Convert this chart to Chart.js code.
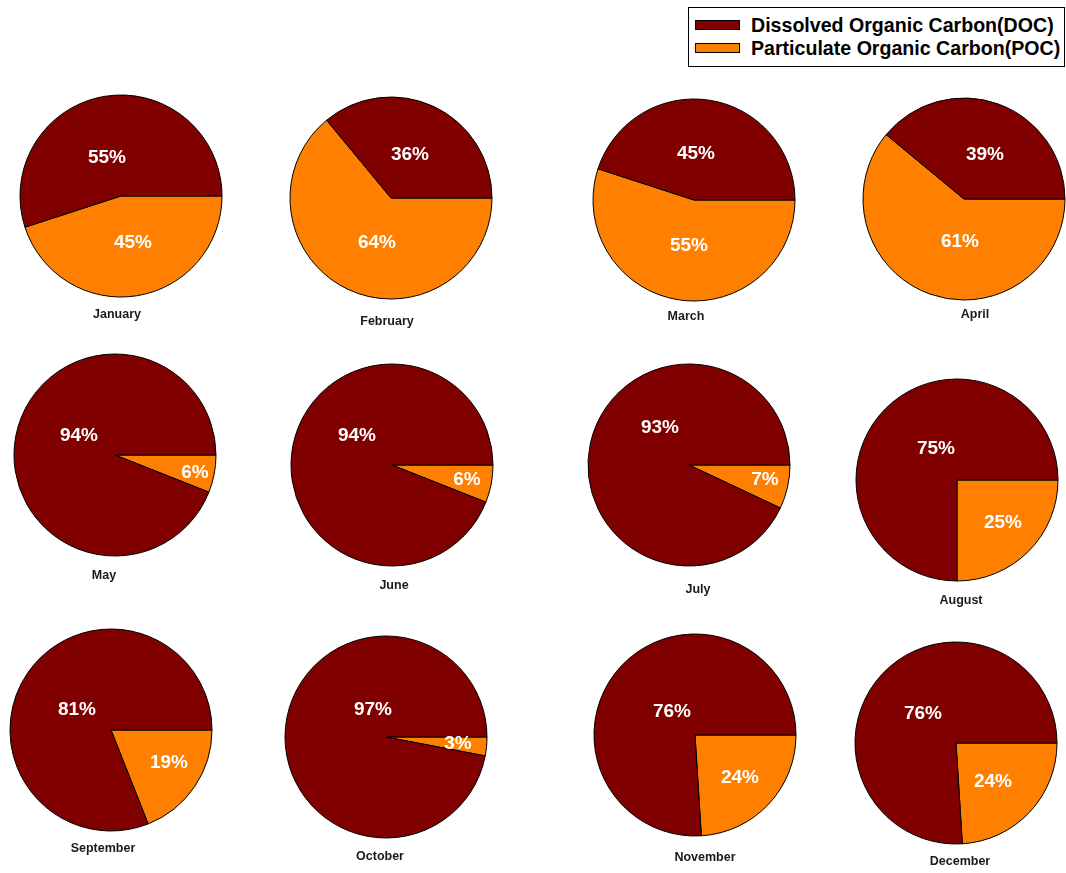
<!DOCTYPE html>
<html>
<head>
<meta charset="utf-8">
<script src="https://cdn.jsdelivr.net/npm/chart.js@4/dist/chart.umd.min.js"></script>
<style>
html,body{margin:0;padding:0;background:#fff;}
#page{position:relative;width:1066px;height:873px;overflow:hidden;font-family:"Liberation Sans",Arial,sans-serif;}
#page canvas{position:absolute;}
#legend{position:absolute;left:688px;top:7px;width:377px;height:60px;border:1px solid #000;box-sizing:border-box;}
.item{position:absolute;left:6px;height:22px;line-height:22px;display:flex;align-items:center;font-weight:bold;font-size:19.6px;color:#000;white-space:nowrap;}
.sw{width:43px;height:8px;border:1px solid #000;margin-right:11px;flex:none;}
</style>
</head>
<body>
<div id="page">
  <div id="legend"></div>
</div>
<script>
// ---- data ----
const months = ['January','February','March','April','May','June','July','August','September','October','November','December'];
const seriesNames = ['Dissolved Organic Carbon(DOC)','Particulate Organic Carbon(POC)'];
const docValues = [55,36,45,39,94,94,93,75,81,97,76,76];
const pocValues = [45,64,55,61,6,6,7,25,19,3,24,24];

// ---- layout / style ----
const colors = {DOC:'#800000', POC:'#FF8000'};
const pieCenters = [[121,196],[391,198],[694,200],[964,199],[115,455],[392,465],[689,465],[957,480],[111,730],[386,737],[695,735],[956,743]];
const pieRadius = 101;
const monthLabelOffset = [[-4,119],[-4,124],[-8,117],[11,116],[-11,121],[2,121],[9,125],[4,121],[-8,119],[-6,120],[10,123],[4,119]];
const docLabelOffset = [[-14,-38],[19,-43],[2,-46],[21,-44],[-36,-19],[-35,-29],[-29,-37],[-21,-31],[-34,-20],[-13,-27],[-23,-23],[-33,-29]];
const pocLabelOffset = [[12,47],[-14,45],[-5,46],[-4,43],[80,18],[75,15],[76,15],[46,43],[58,33],[72,7],[45,43],[37,39]];
const FONT = '"Liberation Sans", Arial, sans-serif';

// legend
const legend = document.getElementById('legend');
[[seriesNames[0], colors.DOC, 6],[seriesNames[1], colors.POC, 28.5]].forEach(([name,col,top])=>{
  const it = document.createElement('div');
  it.className='item'; it.style.top = top+'px';
  const sw = document.createElement('div'); sw.className='sw'; sw.style.background=col;
  const tx = document.createElement('span'); tx.textContent = name;
  it.appendChild(sw); it.appendChild(tx);
  legend.appendChild(it);
});

const labelPlugin = {
  id:'pieLabels',
  afterDatasetsDraw(chart, args, opts){
    const i = opts.index;
    const arcs = chart.getDatasetMeta(0).data;
    const cx = arcs[0].x, cy = arcs[0].y;
    const vals = chart.data.datasets[0].data; // [POC, DOC]
    const ctx = chart.ctx;
    ctx.save();
    ctx.textAlign='center'; ctx.textBaseline='middle';
    ctx.fillStyle='#ffffff';
    ctx.font='bold 19px '+FONT;
    ctx.fillText(vals[1]+'%', cx+docLabelOffset[i][0], cy+docLabelOffset[i][1]);
    ctx.fillText(vals[0]+'%', cx+pocLabelOffset[i][0], cy+pocLabelOffset[i][1]);
    ctx.fillStyle='#1a1a1a';
    ctx.font='bold 12.5px '+FONT;
    ctx.fillText(chart.data.monthName, cx+monthLabelOffset[i][0], cy+monthLabelOffset[i][1]);
    ctx.restore();
  }
};

const page = document.getElementById('page');
months.forEach((m,i)=>{
  const cv = document.createElement('canvas');
  cv.width = 240; cv.height = 300;
  cv.style.left = (pieCenters[i][0]-120)+'px';
  cv.style.top = (pieCenters[i][1]-120)+'px';
  page.appendChild(cv);
  new Chart(cv, {
    type:'pie',
    data:{
      monthName: m,
      labels:[seriesNames[1], seriesNames[0]],
      datasets:[{
        data:[pocValues[i], docValues[i]],
        backgroundColor:[colors.POC, colors.DOC],
        borderColor:'#000000',
        borderWidth:1,
        radius: pieRadius
      }]
    },
    options:{
      responsive:false,
      animation:false,
      devicePixelRatio:1,
      rotation:90,
      layout:{padding:{left:0,right:0,top:0,bottom:60}},
      plugins:{legend:{display:false}, tooltip:{enabled:false}, pieLabels:{index:i}},
      events:[]
    },
    plugins:[labelPlugin]
  });
});
</script>
</body>
</html>
